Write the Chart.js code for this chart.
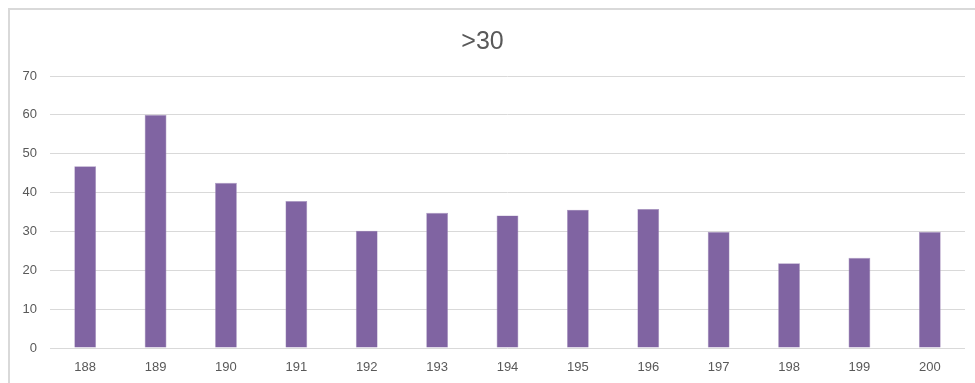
<!DOCTYPE html>
<html>
<head>
<meta charset="utf-8">
<script src="https://cdn.jsdelivr.net/npm/chart.js@4"></script>
<style>
  html, body { margin: 0; padding: 0; background: #fff; }
  #frame { position: absolute; left: 0; top: 0; width: 975px; height: 383px; }
  #edge { position: absolute; left: 8px; top: 8px; width: 980px; height: 390px;
          border-left: 2px solid #d9d9d9; border-top: 2px solid #d9d9d9; box-sizing: border-box; pointer-events: none; }
  canvas { display: block; }
</style>
</head>
<body>
<div id="frame"><canvas id="c" width="975" height="383"></canvas></div>
<div id="edge"></div>
<script>
// Category labels along the x axis
const categories = ['188','189','190','191','192','193','194','195','196','197','198','199','200'];
// Count per category
const values = [46.8, 60, 42.5, 37.8, 30.2, 34.8, 34.1, 35.6, 35.8, 29.9, 21.8, 23.2, 29.9];
// Chart heading
const titleText = '>30';

const textColor = '#595959';
const gridColor = '#d9d9d9';
const fontFamily = "'Liberation Sans', 'DejaVu Sans', sans-serif";

new Chart(document.getElementById('c'), {
  type: 'bar',
  data: {
    labels: categories,
    datasets: [{
      data: values,
      backgroundColor: '#8064a2',
      borderColor: '#a896c0',
      borderWidth: 0.6,
      barPercentage: 0.31,
      categoryPercentage: 1.0
    }]
  },
  options: {
    responsive: false,
    animation: false,
    layout: { padding: { left: 0, right: 10, top: 27, bottom: 0 } },
    plugins: {
      legend: { display: false },
      tooltip: { enabled: false },
      title: {
        display: true,
        text: titleText,
        color: textColor,
        font: { family: fontFamily, size: 25, weight: 'normal' },
        padding: { top: 0, bottom: 19 }
      }
    },
    scales: {
      x: {
        grid: { display: false, drawTicks: false },
        border: { display: false },
        ticks: { color: textColor, font: { family: fontFamily, size: 13 }, padding: 12, maxRotation: 0 },
        afterFit(scale) { scale.height = 35; }
      },
      y: {
        min: 0,
        max: 70,
        ticks: { stepSize: 10, color: textColor, font: { family: fontFamily, size: 13 }, padding: 13 },
        grid: { color: gridColor, lineWidth: 1, drawTicks: false },
        border: { display: false },
        afterFit(scale) { scale.width = 50; }
      }
    }
  }
});
</script>
</body>
</html>
